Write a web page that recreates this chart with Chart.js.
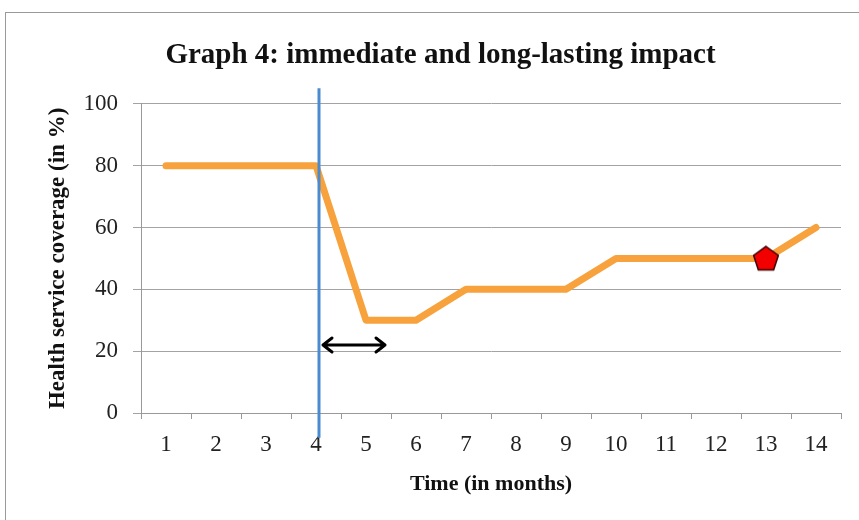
<!DOCTYPE html>
<html>
<head>
<meta charset="utf-8">
<script src="https://cdn.jsdelivr.net/npm/chart.js@4"></script>
<style>
  body { margin: 0; background: #fff; }
  #wrap { position: relative; width: 859px; height: 520px; }
</style>
</head>
<body>
<div id="wrap"><canvas id="myChart" width="859" height="520"></canvas></div>
<script>
// data
const months = ['1', '2', '3', '4', '5', '6', '7', '8', '9', '10', '11', '12', '13', '14'];
const coverage = [80, 80, 80, 80, 30, 30, 40, 40, 40, 50, 50, 50, 50, 60];
const markerMonth = 13;
const yTicks = [0, 20, 40, 60, 80, 100];
// annotations, in chart units (month, %)
const eventLine = [4.06, 105, -8];      // month, top value, bottom value
const arrowSpan = [4.14, 5.38, 22];     // from month, to month, at value

const markerData = coverage.map((v, i) => (i + 1 === markerMonth ? v : null));

// red pentagon for the marker
function pentagon(r) {
    const c = document.createElement('canvas');
    c.width = c.height = r * 2 + 4;
    const g = c.getContext('2d');
    g.beginPath();
    for (let k = 0; k < 5; k++) {
        const a = -Math.PI / 2 + k * 2 * Math.PI / 5;
        const px = r + 2 + r * Math.cos(a);
        const py = r + 2 + r * Math.sin(a) + 1;
        if (k === 0) g.moveTo(px, py); else g.lineTo(px, py);
    }
    g.closePath();
    g.fillStyle = '#f20000';
    g.fill();
    g.lineWidth = 1.5;
    g.strokeStyle = '#3a0000';
    g.stroke();
    return c;
}

function xAt(scale, m) {
    const i = m - 1;
    const f = Math.floor(i);
    const p0 = scale.getPixelForValue(f);
    const p1 = scale.getPixelForValue(f + 1);
    return p0 + (p1 - p0) * (i - f);
}

const extras = {
    id: 'extras',
    beforeDraw(chart) {
        const ctx = chart.ctx;
        ctx.save();
        ctx.strokeStyle = '#9a9a9a';
        ctx.lineWidth = 1;
        ctx.strokeRect(5.5, 12.5, 900, 600);
        ctx.restore();
    },
    afterDatasetsDraw(chart) {
        const ctx = chart.ctx;
        const x = chart.scales.x, y = chart.scales.y;
        ctx.save();
        // vertical event line
        const ex = xAt(x, eventLine[0]);
        ctx.strokeStyle = '#4a8bd0';
        ctx.lineWidth = 3;
        ctx.beginPath();
        ctx.moveTo(ex, y.getPixelForValue(eventLine[1]));
        ctx.lineTo(ex, y.getPixelForValue(eventLine[2]));
        ctx.stroke();
        // double arrow
        const x1 = xAt(x, arrowSpan[0]), x2 = xAt(x, arrowSpan[1]);
        const ay = y.getPixelForValue(arrowSpan[2]);
        ctx.strokeStyle = '#000';
        ctx.lineWidth = 3;
        ctx.lineCap = 'round';
        ctx.lineJoin = 'round';
        ctx.beginPath();
        ctx.moveTo(x1, ay); ctx.lineTo(x2, ay);
        ctx.moveTo(x1 + 9, ay - 7); ctx.lineTo(x1, ay); ctx.lineTo(x1 + 9, ay + 7);
        ctx.moveTo(x2 - 9, ay - 7); ctx.lineTo(x2, ay); ctx.lineTo(x2 - 9, ay + 7);
        ctx.stroke();
        ctx.restore();
    }
};

const ctx = document.getElementById('myChart');

new Chart(ctx, {
    type: 'line',
    data: {
        labels: months,
        datasets: [{
            data: markerData,
            pointStyle: pentagon(13),
            pointRadius: 13,
            showLine: false,
            order: 0
        }, {
            data: coverage,
            borderColor: '#f8a23e',
            borderWidth: 7,
            borderJoinStyle: 'round',
            borderCapStyle: 'round',
            tension: 0,
            pointRadius: 0,
            order: 1
        }]
    },
    options: {
        responsive: false,
        animation: false,
        layout: { padding: { left: 40, right: 18, top: 38, bottom: 18 } },
        plugins: {
            legend: { display: false },
            tooltip: { enabled: false },
            title: {
                display: true,
                text: 'Graph 4: immediate and long-lasting impact',
                color: '#111',
                font: { family: 'Liberation Serif', size: 29, weight: 'bold' },
                padding: { top: 0, bottom: 31 }
            }
        },
        scales: {
            x: {
                offset: true,
                grid: { offset: true, drawOnChartArea: false, color: '#999', tickLength: 6 },
                border: { color: '#999' },
                ticks: { color: '#222', font: { family: 'Liberation Serif', size: 23 }, padding: 12, maxRotation: 0 },
                title: {
                    display: true,
                    text: 'Time (in months)',
                    color: '#111',
                    font: { family: 'Liberation Serif', size: 22, weight: 'bold' },
                    padding: { top: 4, bottom: 4 }
                },
                afterFit(s) { s.height = 89; }
            },
            y: {
                min: 0,
                max: 100,
                afterBuildTicks(s) { s.ticks = yTicks.map(v => ({ value: v })); },
                grid: { color: '#a3a3a3', tickLength: 8 },
                border: { color: '#999' },
                ticks: { color: '#222', font: { family: 'Liberation Serif', size: 23 }, padding: 15 },
                title: {
                    display: true,
                    text: 'Health service coverage (in %)',
                    color: '#111',
                    font: { family: 'Liberation Serif', size: 23, weight: 'bold' },
                    padding: { top: 4, bottom: 4 }
                },
                afterFit(s) { s.width = 101; }
            }
        }
    },
    plugins: [extras]
});
</script>
</body>
</html>
